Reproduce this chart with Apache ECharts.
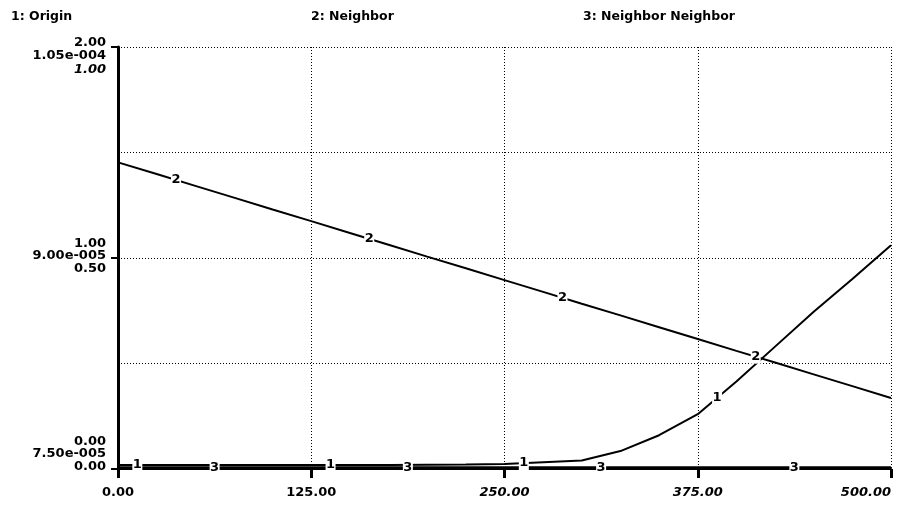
<!DOCTYPE html>
<html><head><meta charset="utf-8">
<script src="https://cdn.jsdelivr.net/npm/echarts@6/dist/echarts.min.js"></script>
<style>html,body{margin:0;padding:0;background:#fff}#c{width:899px;height:506px}</style>
</head><body><div id="c"></div>
<script>
const times = [0,25,50,75,100,125,150,175,200,225,250,275,300,325,350,375,400,425,450,475,500];
const origin = [0.019,0.019,0.019,0.019,0.019,0.019,0.019,0.019,0.02,0.021,0.024,0.032,0.04,0.085,0.16,0.26,0.415,0.58,0.745,0.90,1.06];
const neighbor = [9.68e-5,9.597e-5,9.513e-5,9.429e-5,9.345e-5,9.262e-5,9.178e-5,9.094e-5,9.010e-5,8.927e-5,8.843e-5,8.759e-5,8.675e-5,8.592e-5,8.508e-5,8.424e-5,8.340e-5,8.257e-5,8.173e-5,8.089e-5,8.005e-5];
const neighborNeighbor = [0.004,0.004,0.004,0.004,0.004,0.004,0.004,0.004,0.004,0.004,0.004,0.004,0.004,0.004,0.004,0.004,0.004,0.004,0.004,0.004,0.004];
const seriesTitles = ['1: Origin','2: Neighbor','3: Neighbor Neighbor'];
const xTickLabels = ['0.00','125.00','250.00','375.00','500.00'];
const originTickLabels = ['0.00','1.00','2.00'];
const neighborTickLabels = ['7.50e-005','9.00e-005','1.05e-004'];
const nnTickLabels = ['0.00','0.50','1.00'];
const originMarkTimes = [12.5,137.5,262.5,387.5];
const neighborMarkTimes = [37.5,162.5,287.5,412.5];
const nnMarkTimes = [62.5,187.5,312.5,437.5];

const FONT = "'DejaVu Sans', sans-serif";
function pairs(arr){ return times.map((t,i)=>[t,arr[i]]); }
function valueAt(arr,t){
  for(let i=0;i<times.length-1;i++){
    if(t>=times[i] && t<=times[i+1]){
      const f=(t-times[i])/(times[i+1]-times[i]);
      return arr[i]+(arr[i+1]-arr[i])*f;
    }
  }
  return arr[arr.length-1];
}
function marks(arr,ts,txt){
  return {
    symbol:'rect', symbolSize:[10,14], silent:true,
    itemStyle:{color:'#fff'},
    label:{show:true, position:'inside', formatter:txt, color:'#000', fontFamily:FONT, fontWeight:'bold', fontSize:13},
    data: ts.map(t=>({coord:[t, valueAt(arr,t)]}))
  };
}
const labStyle = {color:'#000', fontFamily:FONT, fontWeight:'bold', fontSize:13, lineHeight:14};
function shiftStyle(shift, italic){
  const s = Object.assign({}, labStyle);
  if (italic) s.fontStyle='italic';
  s.padding = shift<0 ? [0,0,-2*shift,0] : [2*shift,0,0,0];
  return s;
}
const chart = echarts.init(document.getElementById('c'));
chart.setOption({
  animation:false,
  backgroundColor:'#fff',
  title: [
    {text:seriesTitles[0], left:11, top:10},
    {text:seriesTitles[1], left:311, top:10},
    {text:seriesTitles[2], left:583, top:10}
  ].map(o=>Object.assign(o,{padding:0,textStyle:{color:'#000',fontFamily:FONT,fontWeight:'bold',fontSize:12.5}})),
  grid:{left:118, right:8, top:47, bottom:37, containLabel:false},
  xAxis:{
    type:'value', min:0, max:500, interval:125,
    axisLine:{show:true, onZero:false, lineStyle:{color:'#000', width:2}},
    axisTick:{show:true, length:9, lineStyle:{color:'#000', width:3}},
    axisLabel:{margin:17, alignMaxLabel:'right',
      formatter:(v)=>{const i=Math.round(v/125); return i>=2?'{i|'+xTickLabels[i]+'}':'{n|'+xTickLabels[i]+'}';},
      rich:{n:Object.assign({},labStyle), i:Object.assign({},labStyle,{fontStyle:'italic'})}},
    splitLine:{show:true, lineStyle:{color:'#000', width:1, type:[1,2]}}
  },
  yAxis:[
    {type:'value', min:0, max:2, interval:1, position:'left',
      axisLine:{show:true, lineStyle:{color:'#000', width:3}},
      axisTick:{show:true, length:7, lineStyle:{color:'#000', width:2}},
      splitLine:{show:false},
      axisLabel:{margin:12,
        formatter:(v)=>{const i=Math.round(v); return '{s'+i+'|'+originTickLabels[i]+'}';},
        rich:{s0:shiftStyle(-27), s1:shiftStyle(-14), s2:shiftStyle(-4)}}
    },
    {type:'value', min:7.5e-5, max:1.05e-4, interval:1.5e-5, position:'left',
      axisLine:{show:false}, axisTick:{show:false}, splitLine:{show:false},
      axisLabel:{margin:12,
        formatter:(v)=>{const i=Math.round((v-7.5e-5)/1.5e-5); return '{s'+i+'|'+neighborTickLabels[i]+'}';},
        rich:{s0:shiftStyle(-15), s1:shiftStyle(-2), s2:shiftStyle(9)}}
    },
    {type:'value', min:0, max:1, interval:0.25, position:'left',
      axisLine:{show:false}, axisTick:{show:false},
      splitLine:{show:true, lineStyle:{color:'#000', width:1, type:[1,2]}},
      axisLabel:{margin:12,
        formatter:(v)=>{const k=Math.round(v/0.25); if(k%2) return ''; const i=k/2; return '{s'+i+'|'+nnTickLabels[i]+'}';},
        rich:{s0:shiftStyle(-2), s1:shiftStyle(11), s2:shiftStyle(23, true)}}
    }
  ],
  series:[
    {name:seriesTitles[0], type:'line', yAxisIndex:0, data:pairs(origin), showSymbol:false, symbol:'none',
      lineStyle:{color:'#000', width:2}, markPoint:marks(origin, originMarkTimes, '1')},
    {name:seriesTitles[1], type:'line', yAxisIndex:1, data:pairs(neighbor), showSymbol:false, symbol:'none',
      lineStyle:{color:'#000', width:2}, markPoint:marks(neighbor, neighborMarkTimes, '2')},
    {name:seriesTitles[2], type:'line', yAxisIndex:2, data:pairs(neighborNeighbor), showSymbol:false, symbol:'none',
      lineStyle:{color:'#000', width:2}, markPoint:marks(neighborNeighbor, nnMarkTimes, '3')}
  ]
});
</script></body></html>
